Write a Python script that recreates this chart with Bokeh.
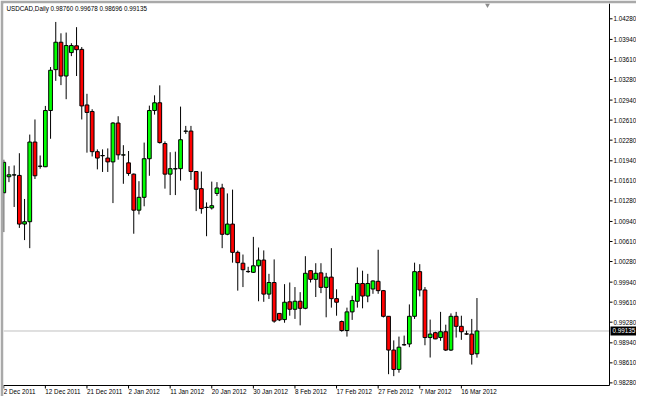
from bokeh.plotting import figure
from bokeh.models import ColumnDataSource, Range1d, Label
from bokeh.core.properties import value
from bokeh.embed import file_html
from bokeh.resources import INLINE

# ---- data (USDCAD daily, one value per bar) ----
opens = [
    1.01413, 1.01677, 1.01705, 1.01699, 1.00897, 1.00936, 1.02249, 1.01848, 1.01842, 1.02769,
    1.03442, 1.03894, 1.03337, 1.03723, 1.03835, 1.03776, 1.02860, 1.02753, 1.02090, 1.02023,
    1.01985, 1.01922, 1.02562, 1.02034, 1.01906, 1.01720, 1.01126, 1.01338, 1.01974, 1.02769,
    1.02896, 1.02224, 1.01720, 1.01806, 1.01810, 1.02426, 1.02430, 1.01763, 1.01481, 1.01170,
    1.01163, 1.01402, 1.01492, 1.00729, 1.00897, 1.00431, 1.00252, 1.00117, 1.00102, 1.00209,
    1.00304, 0.99743, 0.99934, 0.99425, 0.99323, 0.99616, 0.99493, 0.99625, 0.99509, 1.00129,
    0.99986, 1.00093, 0.99854, 1.00023, 0.99668, 0.99291, 0.99143, 0.99450, 0.99625, 0.99918,
    0.99711, 0.99827, 0.99954, 0.99800, 0.99377, 0.98821, 0.98502, 0.98906, 0.98921, 0.99377,
    1.00113, 0.99811, 0.99027, 0.99107, 0.99027, 0.99123, 0.98821, 0.99377, 0.99212, 0.99088,
    0.99084, 0.98760]
highs = [
    1.01958, 1.01852, 1.01863, 1.02065, 1.01311, 1.02372, 1.02621, 1.02027, 1.02844, 1.03485,
    1.04228, 1.04041, 1.04053, 1.03878, 1.04142, 1.03814, 1.03044, 1.02790, 1.02128, 1.02128,
    1.02144, 1.02578, 1.02674, 1.02197, 1.02101, 1.01731, 1.01604, 1.02240, 1.02849, 1.03019,
    1.03183, 1.02260, 1.02081, 1.02090, 1.02833, 1.02515, 1.02515, 1.01770, 1.01763, 1.01254,
    1.01597, 1.01588, 1.01561, 1.01402, 1.01465, 1.00459, 1.00395, 1.00193, 1.00686, 1.00511,
    1.00463, 1.00077, 1.00315, 0.99430, 0.99907, 0.99934, 0.99859, 0.99775, 1.00368, 1.00135,
    1.00252, 1.00252, 1.00093, 1.00500, 0.99822, 0.99307, 0.99520, 0.99716, 1.00182, 1.00129,
    1.00077, 0.99970, 1.00474, 0.99811, 0.99380, 0.98980, 0.99043, 0.99059, 0.99573, 1.00261,
    1.00236, 0.99859, 0.99323, 0.99123, 0.99450, 0.99239, 0.99425, 0.99450, 0.99387, 0.99139,
    0.99334, 0.99678]
lows = [
    1.00765, 1.01588, 1.01179, 1.00834, 1.00633, 1.00500, 1.01640, 1.01810, 1.01836, 1.02303,
    1.03257, 1.03187, 1.02955, 1.03665, 1.03337, 1.02621, 1.02074, 1.02011, 1.01799, 1.01756,
    1.01756, 1.01243, 1.01958, 1.01561, 1.01693, 1.00738, 1.01056, 1.01190, 1.01693, 1.02701,
    1.02224, 1.01481, 1.01375, 1.01375, 1.01613, 1.02383, 1.01624, 1.01111, 1.01068, 1.00697,
    1.01136, 1.01359, 1.00500, 1.00713, 1.00261, 0.99800, 0.99859, 1.00093, 1.00093, 0.99625,
    0.99616, 0.99663, 0.99271, 0.99298, 0.99271, 0.99387, 0.99334, 0.99228, 0.99493, 0.99934,
    0.99695, 0.99759, 0.99361, 0.99520, 0.99387, 0.99123, 0.99043, 0.99318, 0.99520, 0.99509,
    0.99609, 0.99748, 0.99748, 0.99358, 0.98423, 0.98391, 0.98448, 0.98894, 0.98868, 0.99334,
    0.99705, 0.98900, 0.98698, 0.99000, 0.98973, 0.98805, 0.98805, 0.99027, 0.98989, 0.99069,
    0.98582, 0.98696]
closes = [
    1.01915, 1.01709, 1.01709, 1.00897, 1.00936, 1.02249, 1.01693, 1.01852, 1.02769, 1.03432,
    1.03894, 1.03337, 1.03839, 1.03839, 1.03771, 1.02844, 1.02737, 1.02090, 1.01985, 1.02027,
    1.01922, 1.02562, 1.02038, 1.02038, 1.01731, 1.01126, 1.01338, 1.01974, 1.02769, 1.02896,
    1.02240, 1.01720, 1.01810, 1.01810, 1.02287, 1.02430, 1.01763, 1.01470, 1.01152, 1.01174,
    1.01200, 1.01492, 1.00729, 1.00897, 1.00431, 1.00261, 1.00145, 1.00113, 1.00209, 1.00304,
    0.99743, 0.99934, 0.99298, 0.99318, 0.99609, 0.99493, 0.99625, 0.99509, 1.00086, 0.99986,
    1.00086, 0.99854, 1.00023, 0.99668, 0.99609, 0.99143, 0.99450, 0.99636, 0.99918, 0.99711,
    0.99918, 0.99959, 0.99800, 0.99377, 0.98821, 0.98502, 0.98868, 0.98910, 0.99377, 1.00113,
    0.99811, 0.99027, 0.99084, 0.99005, 0.99123, 0.98821, 0.99377, 0.99212, 0.99123, 0.99084,
    0.98751, 0.99135]

date_tick_bars = [0, 8, 16, 24, 32, 40, 48, 56, 64, 72, 80, 88]
date_tick_labels = ["2 Dec 2011", "12 Dec 2011", "21 Dec 2011", "2 Jan 2012",
                    "11 Jan 2012", "20 Jan 2012", "30 Jan 2012", "8 Feb 2012",
                    "17 Feb 2012", "27 Feb 2012", "7 Mar 2012", "16 Mar 2012"]
price_ticks = [1.04280, 1.03940, 1.03610, 1.03280, 1.02940, 1.02610, 1.02280,
               1.01940, 1.01610, 1.01280, 1.00940, 1.00610, 1.00280, 0.99940,
               0.99610, 0.99280, 0.98940, 0.98610, 0.98280]
symbol = "USDCAD,Daily"
last_price = 0.99135

# ---- layout (pixels) ----
W, H = 636, 396
BL, BT = 3, 3                  # grey window border, left / top
FW, FH = W - BL, H - BT        # frame size
X0, X1 = -0.05, 121.68         # bar-index range across the frame
Y0, Y1 = 0.980555, 1.045321    # price range across the frame
XS = (X1 - X0) / FW            # data per pixel
YS = (Y1 - Y0) / FH
AXIS_PX, BOTTOM_PX = 609, 385  # right price scale / bottom time scale (canvas px)

def px_x(px):
    return X0 + (px - BL) * XS

def px_y(py):
    return Y1 - (py - BT) * YS

AXIS_X = px_x(AXIS_PX)
AXIS_Y = px_y(BOTTOM_PX)
TICK = 3

FONT = "Liberation Sans"
FS = "6.3px"

bars = list(range(len(opens)))
src = ColumnDataSource(dict(
    x=bars, h=highs, l=lows,
    top=[max(a, b) for a, b in zip(opens, closes)],
    bot=[min(a, b) for a, b in zip(opens, closes)],
    col=["#00ff00" if c >= o else "#ff0000" for o, c in zip(opens, closes)],
))

p = figure(width=W, height=H, output_backend="svg", toolbar_location=None,
           x_range=Range1d(X0, X1), y_range=Range1d(Y0, Y1),
           x_axis_location=None, y_axis_location=None,
           min_border_left=BL, min_border_top=BT, min_border_right=0, min_border_bottom=0,
           background_fill_color="white", border_fill_color="#a9a9a9")
p.grid.visible = False
p.outline_line_color = None

# current price line
p.segment(x0=[X0], y0=[last_price], x1=[AXIS_X], y1=[last_price],
          line_color="#c0c0c0", line_width=1)

# candles
p.segment(x0="x", y0="h", x1="x", y1="l", source=src, line_color="black", line_width=1)
p.vbar(x="x", width=0.72, top="top", bottom="bot", source=src,
       fill_color="col", line_color="black", line_width=1)

# price scale (right)
p.segment(x0=[AXIS_X], y0=[AXIS_Y], x1=[AXIS_X], y1=[Y1], line_color="black", line_width=1)
p.segment(x0=[AXIS_X] * len(price_ticks), y0=price_ticks,
          x1=[AXIS_X + TICK * XS] * len(price_ticks), y1=price_ticks,
          line_color="black", line_width=1)
p.text(x=[AXIS_X + (TICK + 1) * XS] * len(price_ticks), y=price_ticks,
       text=["%.5f" % v for v in price_ticks],
       text_font=value(FONT), text_font_size=value(FS), text_color="black",
       text_align="left", text_baseline="middle")

# time scale (bottom)
p.segment(x0=[X0], y0=[AXIS_Y], x1=[AXIS_X], y1=[AXIS_Y], line_color="black", line_width=1)
p.segment(x0=date_tick_bars, y0=[AXIS_Y] * len(date_tick_bars),
          x1=date_tick_bars, y1=[AXIS_Y - TICK * YS] * len(date_tick_bars),
          line_color="black", line_width=1)
p.text(x=date_tick_bars, y=[AXIS_Y - 2 * YS] * len(date_tick_bars), text=date_tick_labels,
       text_font=value(FONT), text_font_size=value(FS), text_color="black",
       text_align="left", text_baseline="top")

# chart-shift marker at the top
p.scatter(x=[px_x(487)], y=[px_y(4.5)], marker="inverted_triangle", size=5,
          fill_color="#8c8c8c", line_color=None)

# header text
hdr = symbol + " " + " ".join("%.5f" % v for v in (opens[-1], highs[-1], lows[-1], closes[-1]))
p.add_layout(Label(x=px_x(6), y=px_y(8), text=hdr, text_font=FONT, text_font_size=FS,
                   text_baseline="middle", text_align="left", text_color="black"))

# current price box on the price scale
p.add_layout(Label(x=AXIS_X, y=last_price, x_offset=1,
                   text="%.5f" % last_price, text_font=FONT, text_font_size=FS,
                   text_baseline="middle", text_align="left", text_color="white",
                   background_fill_color="black", padding=2))

open("out.html", "w").write(file_html(p, INLINE))
